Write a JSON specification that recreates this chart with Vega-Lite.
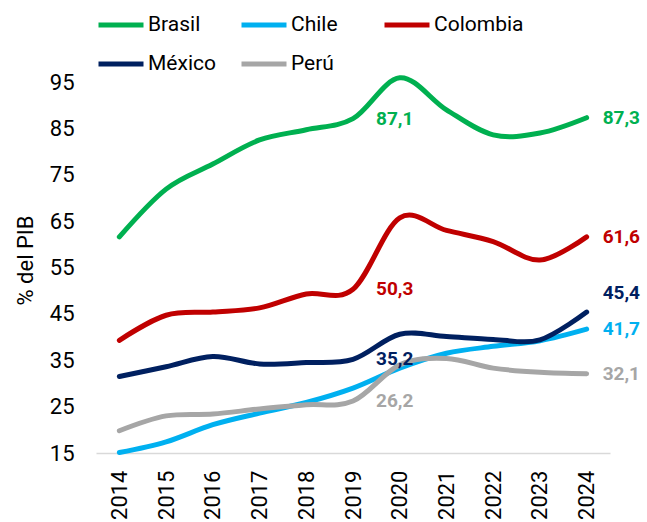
{
  "$schema": "https://vega.github.io/schema/vega-lite/v6.json",
  "autosize": {"type": "none"},
  "padding": {"left": 96, "top": 82, "right": 37, "bottom": 69},
  "width": 514,
  "height": 371,
  "background": "white",
  "config": {
    "view": {"stroke": null},
    "font": "Roboto",
    "locale": {"number": {"decimal": ",", "thousands": ".", "grouping": [3], "currency": ["", ""]}}
  },
  "data": {
    "values": [
      {"year": "2014", "pais": "Brasil", "deuda": 61.6},
      {"year": "2015", "pais": "Brasil", "deuda": 71.9},
      {"year": "2016", "pais": "Brasil", "deuda": 77.3},
      {"year": "2017", "pais": "Brasil", "deuda": 82.5},
      {"year": "2018", "pais": "Brasil", "deuda": 84.7},
      {"year": "2019", "pais": "Brasil", "deuda": 87.1},
      {"year": "2020", "pais": "Brasil", "deuda": 95.9},
      {"year": "2021", "pais": "Brasil", "deuda": 89.0},
      {"year": "2022", "pais": "Brasil", "deuda": 83.6},
      {"year": "2023", "pais": "Brasil", "deuda": 84.0},
      {"year": "2024", "pais": "Brasil", "deuda": 87.3},
      {"year": "2014", "pais": "Chile", "deuda": 15.1},
      {"year": "2015", "pais": "Chile", "deuda": 17.4},
      {"year": "2016", "pais": "Chile", "deuda": 21.1},
      {"year": "2017", "pais": "Chile", "deuda": 23.6},
      {"year": "2018", "pais": "Chile", "deuda": 25.9},
      {"year": "2019", "pais": "Chile", "deuda": 29.0},
      {"year": "2020", "pais": "Chile", "deuda": 33.3},
      {"year": "2021", "pais": "Chile", "deuda": 36.5},
      {"year": "2022", "pais": "Chile", "deuda": 38.0},
      {"year": "2023", "pais": "Chile", "deuda": 39.2},
      {"year": "2024", "pais": "Chile", "deuda": 41.7},
      {"year": "2014", "pais": "Colombia", "deuda": 39.3},
      {"year": "2015", "pais": "Colombia", "deuda": 44.7},
      {"year": "2016", "pais": "Colombia", "deuda": 45.4},
      {"year": "2017", "pais": "Colombia", "deuda": 46.3},
      {"year": "2018", "pais": "Colombia", "deuda": 49.3},
      {"year": "2019", "pais": "Colombia", "deuda": 50.3},
      {"year": "2020", "pais": "Colombia", "deuda": 65.7},
      {"year": "2021", "pais": "Colombia", "deuda": 63.0},
      {"year": "2022", "pais": "Colombia", "deuda": 60.6},
      {"year": "2023", "pais": "Colombia", "deuda": 56.6},
      {"year": "2024", "pais": "Colombia", "deuda": 61.6},
      {"year": "2014", "pais": "México", "deuda": 31.5},
      {"year": "2015", "pais": "México", "deuda": 33.6},
      {"year": "2016", "pais": "México", "deuda": 35.8},
      {"year": "2017", "pais": "México", "deuda": 34.2},
      {"year": "2018", "pais": "México", "deuda": 34.5},
      {"year": "2019", "pais": "México", "deuda": 35.2},
      {"year": "2020", "pais": "México", "deuda": 40.6},
      {"year": "2021", "pais": "México", "deuda": 40.1},
      {"year": "2022", "pais": "México", "deuda": 39.5},
      {"year": "2023", "pais": "México", "deuda": 39.4},
      {"year": "2024", "pais": "México", "deuda": 45.4},
      {"year": "2014", "pais": "Perú", "deuda": 19.8},
      {"year": "2015", "pais": "Perú", "deuda": 23.0},
      {"year": "2016", "pais": "Perú", "deuda": 23.4},
      {"year": "2017", "pais": "Perú", "deuda": 24.5},
      {"year": "2018", "pais": "Perú", "deuda": 25.4},
      {"year": "2019", "pais": "Perú", "deuda": 26.2},
      {"year": "2020", "pais": "Perú", "deuda": 34.0},
      {"year": "2021", "pais": "Perú", "deuda": 35.4},
      {"year": "2022", "pais": "Perú", "deuda": 33.3},
      {"year": "2023", "pais": "Perú", "deuda": 32.4},
      {"year": "2024", "pais": "Perú", "deuda": 32.1}
    ]
  },
  "encoding": {
    "x": {
      "field": "year",
      "type": "ordinal",
      "scale": {"type": "point", "padding": 0.5},
      "axis": {
        "title": null,
        "labelAngle": -90,
        "labelAlign": "right",
        "labelBaseline": "middle",
        "labelFontSize": 22,
        "labelColor": "#000000",
        "labelPadding": 17,
        "ticks": false,
        "domainColor": "#D9D9D9",
        "domainWidth": 1.5,
        "grid": false
      }
    },
    "y": {
      "field": "deuda",
      "type": "quantitative",
      "scale": {"domain": [15, 95], "nice": false, "zero": false},
      "axis": {
        "title": "% del PIB",
        "titleFontSize": 22,
        "titleFontWeight": "normal",
        "titleColor": "#000000",
        "titleAngle": -90,
        "titleX": -71,
        "titleY": 178,
        "titleAlign": "center",
        "titleBaseline": "middle",
        "values": [15, 25, 35, 45, 55, 65, 75, 85, 95],
        "labelFontSize": 22,
        "labelColor": "#000000",
        "labelPadding": 22,
        "ticks": false,
        "domain": false,
        "grid": false
      }
    },
    "color": {
      "field": "pais",
      "type": "nominal",
      "scale": {
        "domain": ["Brasil", "Chile", "Colombia", "México", "Perú"],
        "range": ["#00B050", "#00B0F0", "#C00000", "#002060", "#A6A6A6"]
      },
      "legend": {
        "title": null,
        "orient": "none",
        "legendX": 0,
        "legendY": -82,
        "direction": "horizontal",
        "columns": 3,
        "gridAlign": "all",
        "columnPadding": -7,
        "rowPadding": 4,
        "padding": 0,
        "symbolType": "stroke",
        "symbolSize": 2025,
        "symbolStrokeWidth": 5,
        "labelFontSize": 21,
        "labelColor": "#000000",
        "labelOffset": 2,
        "labelLimit": 200
      }
    }
  },
  "layer": [
    {
      "mark": {"type": "line", "strokeWidth": 5, "interpolate": "cardinal", "strokeCap": "round"}
    },
    {
      "transform": [{"filter": "datum.year == '2019' && datum.pais != 'Chile'"}],
      "mark": {"type": "text", "align": "left", "baseline": "middle", "dx": 23, "fontSize": 19, "fontWeight": "bold"},
      "encoding": {"text": {"field": "deuda", "type": "quantitative", "format": ".1f"}}
    },
    {
      "transform": [{"filter": "datum.year == '2024' && datum.pais != 'México'"}],
      "mark": {"type": "text", "align": "left", "baseline": "middle", "dx": 16, "fontSize": 19, "fontWeight": "bold"},
      "encoding": {"text": {"field": "deuda", "type": "quantitative", "format": ".1f"}}
    },
    {
      "transform": [{"filter": "datum.year == '2024' && datum.pais == 'México'"}],
      "mark": {"type": "text", "align": "left", "baseline": "middle", "dx": 16, "dy": -19, "fontSize": 19, "fontWeight": "bold"},
      "encoding": {"text": {"field": "deuda", "type": "quantitative", "format": ".1f"}}
    }
  ]
}
